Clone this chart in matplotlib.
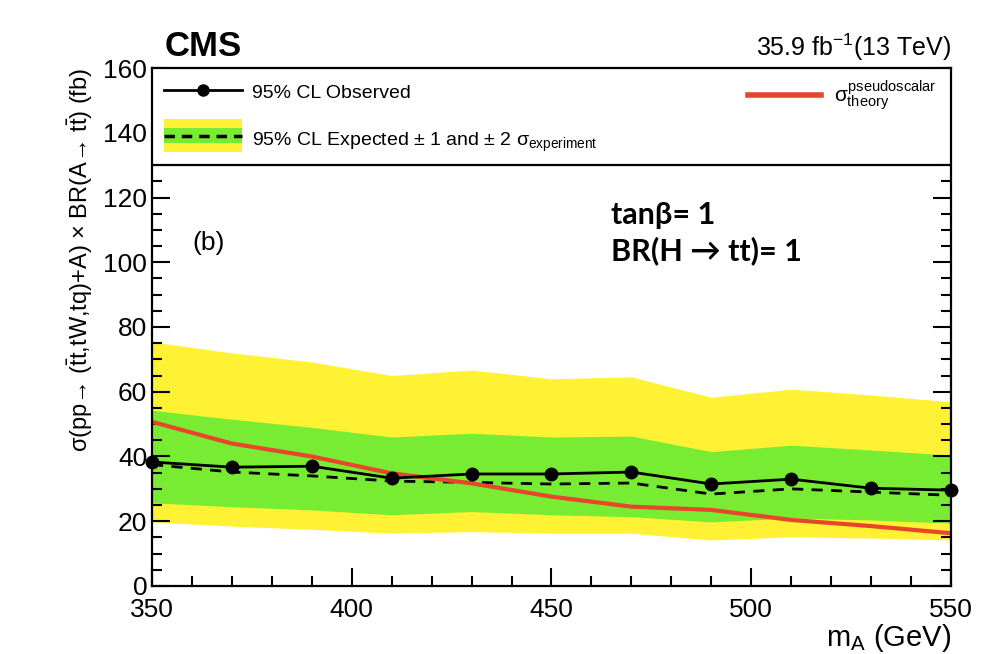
import matplotlib
matplotlib.use("Agg")
import matplotlib.pyplot as plt
from matplotlib.patches import Rectangle
from matplotlib.lines import Line2D
from matplotlib.legend_handler import HandlerBase
from matplotlib.ticker import MultipleLocator

plt.rcParams["font.family"] = ["Liberation Sans", "DejaVu Sans"]
plt.rcParams["mathtext.fontset"] = "custom"
plt.rcParams["mathtext.rm"] = "Liberation Sans"
plt.rcParams["mathtext.it"] = "Liberation Sans"
plt.rcParams["mathtext.bf"] = "Liberation Sans:bold"

mass = [350, 370, 390, 410, 430, 450, 470, 490, 510, 530, 550]
observed = [38.3, 36.7, 37.0, 33.3, 34.6, 34.6, 35.2, 31.5, 33.0, 30.2, 29.6]
expected = [37.5, 35.2, 34.0, 32.4, 32.0, 31.5, 31.8, 28.4, 30.0, 29.0, 28.0]
exp_1s_up = [54.3, 51.5, 49.0, 46.0, 47.2, 46.0, 46.3, 41.5, 43.5, 42.0, 40.4]
exp_1s_dn = [25.7, 24.5, 23.5, 22.0, 23.0, 22.0, 21.4, 19.8, 21.0, 20.4, 19.4]
exp_2s_up = [75.4, 72.0, 69.2, 65.0, 66.7, 64.0, 64.6, 58.3, 60.8, 59.0, 56.9]
exp_2s_dn = [19.8, 18.5, 17.5, 16.3, 16.8, 16.3, 16.3, 14.2, 15.2, 14.8, 14.2]
theory = [50.7, 44.0, 40.0, 34.8, 31.7, 27.6, 24.5, 23.5, 20.4, 18.5, 16.3]

YELLOW = "#fff133"
GREEN = "#77ec33"
RED = "#e8452b"


class BandHandler(HandlerBase):
    # yellow box, green inner strip, dashed median line
    def create_artists(self, legend, orig_handle, xd, yd, width, height, fontsize, trans):
        y2 = Rectangle((xd, yd - 0.45 * height), width, 1.9 * height,
                       facecolor=YELLOW, lw=0, transform=trans)
        y1 = Rectangle((xd, yd + 0.05 * height), width, 0.9 * height,
                       facecolor=GREEN, lw=0, transform=trans)
        ln = Line2D([xd, xd + width], [yd + 0.5 * height] * 2, color="black",
                    ls=(0, (3, 2)), lw=2.5, transform=trans)
        return [y2, y1, ln]


fig = plt.figure(figsize=(9.82, 6.54), dpi=100)
ax = fig.add_axes([0.1548, 0.104, 0.8136, 0.792])

ax.fill_between(mass, exp_2s_dn, exp_2s_up, color=YELLOW, lw=0)
ax.fill_between(mass, exp_1s_dn, exp_1s_up, color=GREEN, lw=0)
ax.plot(mass, expected, color="black", ls=(0, (4, 3)), lw=2)
ax.plot(mass, theory, color=RED, lw=3)
ax.plot(mass, observed, color="black", lw=2, marker="o", ms=9, clip_on=False, zorder=6)

ax.set_xlim(350, 550)
ax.set_ylim(0, 160)
ax.xaxis.set_major_locator(MultipleLocator(50))
ax.xaxis.set_minor_locator(MultipleLocator(10))
ax.yaxis.set_major_locator(MultipleLocator(20))
ax.yaxis.set_minor_locator(MultipleLocator(5))
ax.tick_params(which="both", direction="in", top=False, right=True, width=1.5, labelsize=19)
ax.tick_params(which="major", length=13)
ax.tick_params(which="minor", length=7)
ax.tick_params(axis="x", pad=9)
for s in ax.spines.values():
    s.set_linewidth(1.6)

# legend box covering the top of the frame
ax.axhspan(130, 160, facecolor="white", edgecolor="black", lw=1.6, zorder=3)

h_obs = Line2D([], [], color="black", lw=2, marker="o", ms=8)
h_exp = object()
leg1 = ax.legend([h_obs, h_exp],
                 ["95% CL Observed", r"95% CL Expected $\pm$ 1 and $\pm$ 2 $\sigma_{\mathrm{experiment}}$"],
                 handler_map={h_exp: BandHandler()},
                 loc="upper left", bbox_to_anchor=(-0.007, 1.006), frameon=False,
                 fontsize=14, handlelength=4.0, handleheight=1.0, labelspacing=1.5,
                 handletextpad=0.55, borderaxespad=0.5)
ax.add_artist(leg1)
ax.legend([Line2D([], [], color=RED, lw=4)],
          [r"$\sigma^{\mathrm{pseudoscalar}}_{\mathrm{theory}}$"],
          loc="upper right", bbox_to_anchor=(1.0, 1.008), frameon=False,
          fontsize=15, handlelength=3.5, handletextpad=0.6, borderaxespad=0.3)

ax.text(360, 106, "(b)", fontsize=19, ha="left", va="center", zorder=7)
ax.text(465, 114.5, "tan\u03b2= 1", fontsize=22, fontweight="bold",
        family=["Lato", "DejaVu Sans"], ha="left", va="center", zorder=7)
ax.text(465, 103.5, "BR(H \u2192 tt)= 1", fontsize=22, fontweight="bold",
        family=["Lato", "DejaVu Sans"], ha="left", va="center", zorder=7)

ax.text(0.016, 1.01, "CMS", transform=ax.transAxes, fontsize=25, fontweight="bold",
        ha="left", va="bottom")
ax.text(1.0, 1.01, r"35.9 fb$^{-1}$(13 TeV)", transform=ax.transAxes, fontsize=18,
        ha="right", va="bottom")

ax.set_xlabel(r"m$_{\mathrm{A}}$ (GeV)", fontsize=21, ha="right", x=1.0, labelpad=0)
ax.set_ylabel("\u03c3(pp\u2192 ($\\bar{\\mathrm{t}}$t,tW,tq)+A) \u00d7 BR(A\u2192 t$\\bar{\\mathrm{t}}$) (fb)",
              fontsize=17, ha="right", y=1.0, labelpad=6)

fig.savefig("out.png", dpi=100)
